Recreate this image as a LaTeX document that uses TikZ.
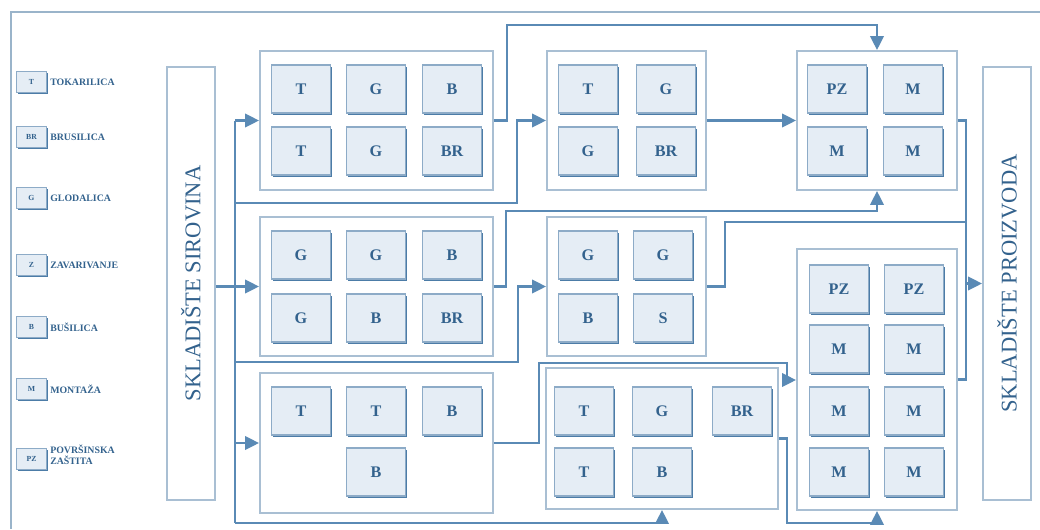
\documentclass[tikz,border=0pt]{standalone}
\usepackage{fontspec}
\setmainfont{Liberation Serif}
\usetikzlibrary{arrows.meta,shadows}

\definecolor{linec}{HTML}{5A8AB5}
\definecolor{framec}{HTML}{9AB4CA}
\definecolor{boxfill}{HTML}{E5EDF5}
\definecolor{boxline}{HTML}{8DABC7}
\definecolor{boxdark}{HTML}{4C7CA7}
\definecolor{grpline}{HTML}{A9BFD3}
\definecolor{grpdark}{HTML}{6893B9}
\definecolor{textc}{HTML}{33628D}

\newcommand{\pxl}{0.025cm}

\begin{document}
\begin{tikzpicture}[
		x=0.025cm, y=-0.025cm,
		con/.style={draw=linec, line width=2pt},
		arr/.style={con, -{Triangle[length=10pt,width=9.5pt]}},
		box/.style={ draw=boxline, fill=boxfill, line width=1.4pt, inner sep=0pt,
			minimum width=59*\pxl, minimum height=48*\pxl, text=textc,
			font=\fontsize{11.5}{12}\selectfont\bfseries,
			drop shadow={shadow xshift=1.3pt, shadow yshift=-1.3pt, fill=boxdark, opacity=1}, },
		grp/.style={ draw=grpline, fill=white, line width=1.3pt, inner sep=0pt,
			drop shadow={shadow xshift=1pt, shadow yshift=-1pt, fill=grpdark, opacity=1}, },
		store/.style={ grp, minimum width=48*\pxl, minimum height=433*\pxl, },
		storetxt/.style={ rotate=90, text=textc, font=\fontsize{16}{16}\selectfont, },
		leg/.style={ box, minimum width=30*\pxl, minimum height=21*\pxl,
			font=\fontsize{5.5}{5.5}\selectfont\bfseries,
			drop shadow={shadow xshift=.8pt, shadow yshift=-.8pt, fill=boxdark, opacity=1}, },
		legtxt/.style={ anchor=west, inner sep=0pt, text=textc, align=left,
			font=\fontsize{7}{8}\selectfont\bfseries, },
		]
		\useasboundingbox (0,0) rectangle (1040,529);
		
		% frame
		\draw[framec, line width=1.4pt] (1040,12) -- (11,12) -- (11,529);
		
		% legend
		\node[leg] (l1) at (31.5,82) {T};
		\node[legtxt] (lt1) at (50,82) {TOKARILICA};
		\node[leg] (l2) at (31.5,137) {BR};
		\node[legtxt] (lt2) at (50,137) {BRUSILICA};
		\node[leg] (l3) at (31.5,198) {G};
		\node[legtxt] (lt3) at (50,198) {GLODALICA};
		\node[leg] (l4) at (31.5,265) {Z};
		\node[legtxt] (lt4) at (50,265) {ZAVARIVANJE};
		\node[leg] (l5) at (31.5,327) {B};
		\node[legtxt] (lt5) at (50,327) {BUŠILICA};
		\node[leg] (l6) at (31.5,389) {M};
		\node[legtxt] (lt6) at (50,389) {MONTAŽA};
		\node[leg] (l7) at (31.5,459) {PZ};
		\node[legtxt] (lt7) at (50,455) {POVRŠINSKA\\ZAŠTITA};
		
		% connectors
		\coordinate (bustop) at (235,120.5);
		\coordinate (busbot) at (235,523);
		\coordinate (j1) at (517,203);
		\coordinate (j2) at (518,362);
		\coordinate (t1) at (507,25);
		\coordinate (t2) at (506,211);
		\coordinate (t3) at (725,222);
		\coordinate (t4) at (539,363);
		\coordinate (t5) at (787,380);
		\coordinate (t6) at (787,523);
		\coordinate (rbus) at (966,379.5);
		
		% storage and groups
		\node[store] (s1) at (191,283.5) {};
		\node[storetxt] (s1t) at (s1) {SKLADIŠTE SIROVINA};
		\node[store] (s2) at (1007,283.5) {};
		\node[storetxt] (s2t) at (s2) {SKLADIŠTE PROIZVODA};
		
		\node[grp, minimum width=233*\pxl, minimum height=139*\pxl] (g1) at (376.5,120.5) {};
		\node[grp, minimum width=159*\pxl, minimum height=139*\pxl] (g3) at (626.5,120.5) {};
		\node[grp, minimum width=160*\pxl, minimum height=139*\pxl] (g5) at (877,120.5) {};
		\node[grp, minimum width=233*\pxl, minimum height=139*\pxl] (g2) at (376.5,286.5) {};
		\node[grp, minimum width=159*\pxl, minimum height=139*\pxl] (g4) at (626.5,286.5) {};
		\node[grp, minimum width=160*\pxl, minimum height=261*\pxl] (g6) at (877,379.5) {};
		\node[grp, minimum width=233*\pxl, minimum height=140*\pxl] (g7) at (376.5,443) {};
		\node[grp, minimum width=232*\pxl, minimum height=141*\pxl] (g8) at (662,438.5) {};
		
		\draw[con] (bustop) -- (busbot);
		\draw[arr] (bustop) -- (g1.west);
		\draw[arr] (s1.east |- g2.west) -- (g2.west);
		\draw[arr] (bustop |- j1) -- (j1) |- (g3.west);
		\draw[arr] (bustop |- j2) -- (j2) |- (g4.west);
		\draw[arr] (bustop |- g7.west) -- (g7.west);
		\draw[arr] (busbot) -| (g8.south);
		
		\draw[arr] (g1.east) -| (t1) -| (g5.north);
		\draw[arr] (g3.east) -- (g5.west);
		\draw[arr] (g2.east) -| (t2) -| (g5.south);
		\draw[con] (g4.east) -| (t3) -- (t3 -| rbus);
		\draw[arr] (g7.east) -| (t4) -| (t5) -- (t5 -| g6.west);
		\draw[arr] (g8.east) -| (t6) -| (g6.south);
		\draw[con] (g5.east) -| (rbus) -- (g6.east);
		\draw[arr] (rbus |- s2.west) -- (s2.west);
		
		% machines
		\node[box] (g1a) at (301,89) {T};
		\node[box] (g1b) at (376,89) {G};
		\node[box] (g1c) at (452,89) {B};
		\node[box] (g1d) at (301,151) {T};
		\node[box] (g1e) at (376,151) {G};
		\node[box] (g1f) at (452,151) {BR};
		
		\node[box] (g3a) at (588,89) {T};
		\node[box] (g3b) at (666,89) {G};
		\node[box] (g3c) at (588,151) {G};
		\node[box] (g3d) at (666,151) {BR};
		
		\node[box] (g5a) at (837,89) {PZ};
		\node[box] (g5b) at (913,89) {M};
		\node[box] (g5c) at (837,151) {M};
		\node[box] (g5d) at (913,151) {M};
		
		\node[box] (g2a) at (301,255) {G};
		\node[box] (g2b) at (376,255) {G};
		\node[box] (g2c) at (452,255) {B};
		\node[box] (g2d) at (301,318) {G};
		\node[box] (g2e) at (376,318) {B};
		\node[box] (g2f) at (452,318) {BR};
		
		\node[box] (g4a) at (588,255) {G};
		\node[box] (g4b) at (663,255) {G};
		\node[box] (g4c) at (588,318) {B};
		\node[box] (g4d) at (663,318) {S};
		
		\node[box] (g6a) at (839,289) {PZ};
		\node[box] (g6b) at (914,289) {PZ};
		\node[box] (g6c) at (839,349) {M};
		\node[box] (g6d) at (914,349) {M};
		\node[box] (g6e) at (839,411) {M};
		\node[box] (g6f) at (914,411) {M};
		\node[box] (g6g) at (839,472) {M};
		\node[box] (g6h) at (914,472) {M};
		
		\node[box] (g7a) at (301,411) {T};
		\node[box] (g7b) at (376,411) {T};
		\node[box] (g7c) at (452,411) {B};
		\node[box] (g7d) at (376,472) {B};
		
		\node[box] (g8a) at (584,411) {T};
		\node[box] (g8b) at (662,411) {G};
		\node[box] (g8c) at (742,411) {BR};
		\node[box] (g8d) at (584,472) {T};
		\node[box] (g8e) at (662,472) {B};
	\end{tikzpicture}
\end{document}
